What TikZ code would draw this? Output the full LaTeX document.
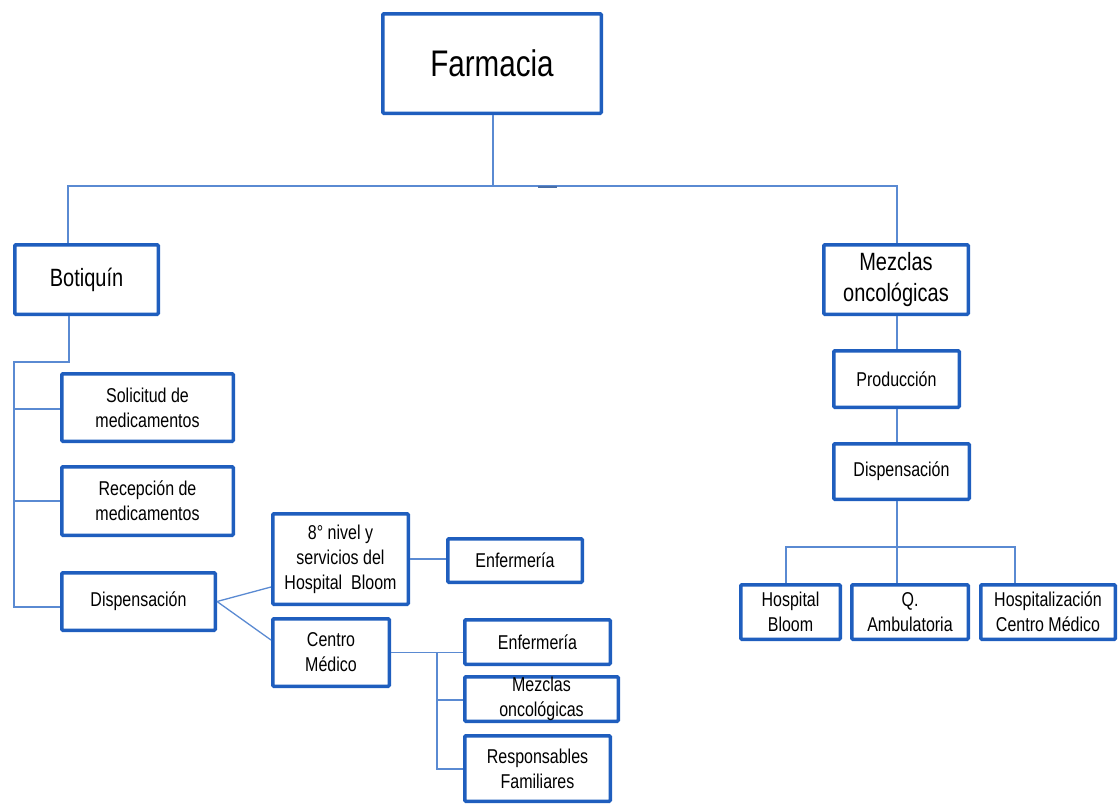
\documentclass[tikz,border=0pt]{standalone}
\usepackage{fontspec}
\setmainfont{Liberation Sans}[FakeStretch=0.8]
\definecolor{boxblue}{HTML}{1F5EBE}
\definecolor{lineblue}{HTML}{5A8AD2}
\newcommand\fA{\fontsize{37}{44}\selectfont}
\newcommand\fB{\fontsize{25}{31}\selectfont}
\newcommand\fC{\fontsize{20}{25}\selectfont}
\tikzset{
  box/.style={draw=boxblue,line width=3.5pt,rectangle,rounded corners=1pt,inner sep=0pt,align=center,text=black,fill=white},
  conn/.style={draw=lineblue,line width=1.3pt}
}
\newcommand\bx[7]{\node[box,font=#7,minimum width={(#4-#2-3.5)*1pt},minimum height={(#5-#3-3.5)*1pt}] (#1) at ({(#2+#4)/2},{(#3+#5)/2}) {#6};}
\begin{document}
\begin{tikzpicture}[x=1pt,y=-1pt]
\useasboundingbox (0,0) rectangle (1119,804);
% boxes
\bx{farm}{381}{12}{603}{115}{Farmacia}{\fA}
\bx{bot}{13}{243}{160}{316}{Botiquín}{\fB}
\bx{mez}{822}{243}{970}{316}{Mezclas\\oncológicas}{\fB}
\bx{sol}{60}{372}{235}{443}{Solicitud de\\medicamentos}{\fC}
\bx{rec}{60}{465}{235}{537}{Recepción de\\medicamentos}{\fC}
\bx{dispL}{60}{571}{217}{632}{Dispensación}{\fC}
\bx{n8}{271}{512}{410}{606}{8° nivel y\\servicios del\\Hospital~~Bloom}{\fC}
\bx{enfA}{446}{537}{584}{584}{Enfermería}{\fC}
\bx{cm}{271}{617}{391}{688}{Centro\\Médico}{\fC}
\bx{enfB}{463}{618}{612}{666}{Enfermería}{\fC}
\bx{mezB}{463}{675}{620}{723}{Mezclas\\oncológicas}{\fC}
\bx{resp}{463}{734}{612}{803}{Responsables\\Familiares}{\fC}
\bx{prod}{832}{349}{961}{409}{Producción}{\fC}
\bx{dispR}{832}{442}{971}{501}{Dispensación}{\fC}
\bx{hb}{739}{583}{842}{641}{Hospital\\Bloom}{\fC}
\bx{qa}{850}{583}{970}{641}{Q.\\Ambulatoria}{\fC}
\bx{hcm}{979}{583}{1117}{641}{Hospitalización\\Centro Médico}{\fC}
% junction coordinates
\coordinate (t0) at (493,186);
\coordinate (tL) at (68,186);
\coordinate (tR) at (897,186);
\coordinate (b1) at (69,362);
\coordinate (b2) at (14,362);
\coordinate (b3) at (14,409);
\coordinate (b4) at (14,501);
\coordinate (b5) at (14,607);
\coordinate (d1) at (271,587);
\coordinate (d2) at (271,640);
\coordinate (c1) at (437,653);
\coordinate (c2) at (437,700);
\coordinate (c3) at (437,769);
\coordinate (r0) at (897,547);
\coordinate (rL) at (786,547);
\coordinate (rR) at (1015,547);
% connectors
\draw[conn] (t0 |- farm.south) -- (t0);
\draw[conn] (bot.north -| tL) -- (tL) -- (tR) -- (tR |- mez.north);
\draw[draw=lineblue!80!black,line width=2pt] (538,186.5) -- (557,186.5);
\draw[conn] (bot.south -| b1) -- (b1) -- (b2) -- (b5) -- (dispL.west |- b5);
\draw[conn] (b3) -- (sol.west |- b3);
\draw[conn] (b4) -- (rec.west |- b4);
\draw[conn] (dispL.east) -- (d1);
\draw[conn] (dispL.east) -- (d2);
\draw[conn] (n8.east) -- (enfA.west |- n8.east);
\draw[conn] (cm.east) -- (enfB.west |- cm.east);
\draw[conn] (c1) -- (c3) -- (resp.west |- c3);
\draw[conn] (c2) -- (mezB.west |- c2);
\draw[conn] (r0 |- mez.south) -- (r0 |- prod.north);
\draw[conn] (r0 |- prod.south) -- (r0 |- dispR.north);
\draw[conn] (r0 |- dispR.south) -- (r0 |- qa.north);
\draw[conn] (hb.north -| rL) -- (rL) -- (rR) -- (hcm.north -| rR);
\end{tikzpicture}
\end{document}
